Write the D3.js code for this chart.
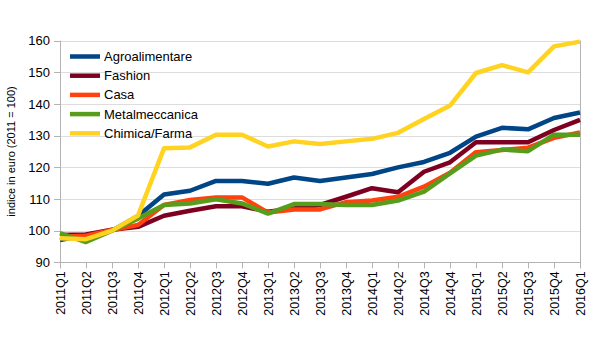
<!DOCTYPE html>
<html>
<head>
<meta charset="utf-8">
<script src="https://cdn.jsdelivr.net/npm/d3@7"></script>
<style>
  body { margin: 0; background: #fff; }
  text { font-family: "Liberation Sans", Arial, sans-serif; fill: #000; }
</style>
</head>
<body>
<div id="chart"></div>
<script>
// quarters on the x axis
const quarters = ["2011Q1", "2011Q2", "2011Q3", "2011Q4", "2012Q1", "2012Q2", "2012Q3", "2012Q4",
    "2013Q1", "2013Q2", "2013Q3", "2013Q4", "2014Q1", "2014Q2", "2014Q3", "2014Q4",
    "2015Q1", "2015Q2", "2015Q3", "2015Q4", "2016Q1"];

const seriesNames = ["Agroalimentare", "Fashion", "Casa", "Metalmeccanica", "Chimica/Farma"];
const seriesColors = ["#004586", "#7e0021", "#ff420e", "#579d1c", "#ffd320"];

const agroalimentare = [97, 98.6, 100, 104.6, 111.4, 112.6, 115.7, 115.7, 114.8, 116.8, 115.7, 116.8,
    117.9, 120, 121.7, 124.6, 129.7, 132.5, 132, 135.6, 137.3];
const fashion = [98.6, 98.8, 100.3, 101.2, 104.7, 106.3, 107.7, 107.7, 106, 107, 108.1, 110.7,
    113.4, 112.1, 118.6, 121.6, 127.9, 127.9, 127.9, 131.8, 135];
const casa = [98.1, 98.4, 100.2, 101.8, 108.1, 109.7, 110.5, 110.5, 105.7, 106.7, 106.7, 109,
    109.5, 110.7, 113.9, 118.3, 124.8, 125.5, 126.2, 129.3, 131];
const metalmeccanica = [99.2, 96.4, 100, 103.8, 108.1, 108.6, 109.9, 108.6, 105.4, 108.4, 108.4, 108.1,
    108.1, 109.5, 112.3, 118.1, 123.7, 125.6, 125.1, 130.3, 130.3];
const chimicaFarma = [97.6, 97.3, 100, 104.8, 126, 126.3, 130.3, 130.3, 126.6, 128.2, 127.4, 128.2,
    129, 130.9, 135.3, 139.5, 149.8, 152.3, 150, 158.2, 159.7];

const yTicks = [90, 100, 110, 120, 130, 140, 150, 160];

const allSeries = [agroalimentare, fashion, casa, metalmeccanica, chimicaFarma];

const width = 606, height = 341;
const margin = { top: 40.7, right: 26, bottom: 78.7, left: 60 };

const svg = d3.select("#chart").append("svg")
    .attr("width", width)
    .attr("height", height);

let xScale = d3.scalePoint().domain(quarters).range([margin.left, width - margin.right]);
let yScale = d3.scaleLinear().domain([90, 160]).range([height - margin.bottom, margin.top]);

// gridlines
svg.append("g").selectAll("line").data(yTicks).join("line")
    .attr("x1", margin.left - 6)
    .attr("x2", width - margin.right)
    .attr("y1", d => Math.round(yScale(d)) + 0.5)
    .attr("y2", d => Math.round(yScale(d)) + 0.5)
    .style("stroke", d => d == 90 ? "#b3b3b3" : "#dddddd")
    .style("stroke-width", 1);

// y tick marks on the left
svg.append("g").selectAll("line").data(yTicks).join("line")
    .attr("x1", margin.left - 6)
    .attr("x2", margin.left)
    .attr("y1", d => Math.round(yScale(d)) + 0.5)
    .attr("y2", d => Math.round(yScale(d)) + 0.5)
    .style("stroke", "#b3b3b3");

// y axis line and right border
svg.append("line")
    .attr("x1", margin.left + 0.5).attr("x2", margin.left + 0.5)
    .attr("y1", margin.top).attr("y2", height - margin.bottom + 6)
    .style("stroke", "#b3b3b3");
svg.append("line")
    .attr("x1", width - margin.right + 0.5).attr("x2", width - margin.right + 0.5)
    .attr("y1", margin.top).attr("y2", height - margin.bottom + 6)
    .style("stroke", "#b3b3b3");

// y tick labels
svg.append("g").selectAll("text").data(yTicks).join("text")
    .attr("x", margin.left - 10)
    .attr("y", d => yScale(d))
    .attr("dy", "0.35em")
    .style("text-anchor", "end")
    .style("font-size", "13px")
    .text(d => d);

// x tick marks
svg.append("g").selectAll("line").data(quarters).join("line")
    .attr("x1", d => Math.round(xScale(d)) + 0.5)
    .attr("x2", d => Math.round(xScale(d)) + 0.5)
    .attr("y1", height - margin.bottom)
    .attr("y2", height - margin.bottom + 6)
    .style("stroke", "#b3b3b3");

// x labels rotated
svg.append("g").selectAll("text").data(quarters).join("text")
    .attr("transform", d => "translate(" + (xScale(d) + 4.5) + "," + (height - margin.bottom + 9) + ") rotate(-90)")
    .style("text-anchor", "end")
    .style("font-size", "12.5px")
    .text(d => d);

// y axis title
svg.append("text")
    .attr("transform", "translate(15," + ((margin.top + height - margin.bottom) / 2) + ") rotate(-90)")
    .style("text-anchor", "middle")
    .style("font-size", "11px")
    .text("indice in euro (2011 = 100)");

// lines
let lineGenerator = d3.line()
    .x((d, i) => xScale(quarters[i]))
    .y(d => yScale(d));

svg.append("g").selectAll("path").data(allSeries).join("path")
    .attr("d", d => lineGenerator(d))
    .style("fill", "none")
    .style("stroke", (d, i) => seriesColors[i])
    .style("stroke-width", 4.5)
    .style("stroke-linejoin", "round");

// legend
let legend = svg.append("g").selectAll("g").data(seriesNames).join("g")
    .attr("transform", (d, i) => "translate(70," + (56.5 + i * 19.2) + ")");
legend.append("line")
    .attr("x1", 0).attr("x2", 30)
    .style("stroke", (d, i) => seriesColors[i])
    .style("stroke-width", 4.5);
legend.append("text")
    .attr("x", 34)
    .attr("dy", "0.35em")
    .style("font-size", "13px")
    .text(d => d);
</script>
</body>
</html>
